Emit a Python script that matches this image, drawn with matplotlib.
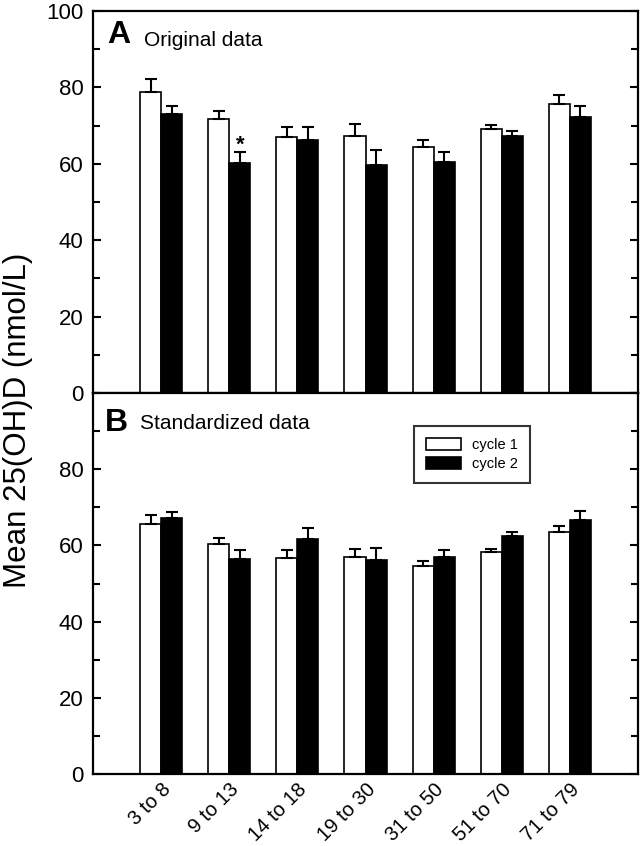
import numpy as np
import matplotlib
matplotlib.use("Agg")
import matplotlib.pyplot as plt
from matplotlib.ticker import MultipleLocator

plt.rcParams["font.family"] = ["Liberation Sans", "DejaVu Sans"]

age_groups = ["3 to 8", "9 to 13", "14 to 18", "19 to 30", "31 to 50", "51 to 70", "71 to 79"]

orig_c1 = [78.7, 71.7, 66.9, 67.4, 64.3, 69.0, 75.7]
orig_c1_err = [3.4, 2.2, 2.8, 2.9, 1.8, 1.2, 2.2]
orig_c2 = [73.0, 60.1, 66.2, 59.7, 60.5, 67.3, 72.3]
orig_c2_err = [2.1, 2.9, 3.5, 3.9, 2.5, 1.4, 2.9]

std_c1 = [65.6, 60.4, 56.6, 57.0, 54.6, 58.3, 63.4]
std_c1_err = [2.5, 1.5, 2.2, 2.1, 1.4, 0.8, 1.7]
std_c2 = [67.3, 56.5, 61.6, 56.1, 56.9, 62.5, 66.6]
std_c2_err = [1.5, 2.3, 3.0, 3.1, 1.9, 1.0, 2.3]

# group index with significant difference (panel A)
sig_groups = [1]

W, H = 641, 846
fig = plt.figure(figsize=(W / 100, H / 100), dpi=100)
left, right = 93 / W, 638 / W
top_a, mid, bot_b = 1 - 11 / H, 1 - 393 / H, 1 - 774 / H
ax_a = fig.add_axes([left, mid, right - left, top_a - mid])
ax_b = fig.add_axes([left, bot_b, right - left, mid - bot_b])

x = np.arange(len(age_groups))
bw = 0.31


def draw_panel(ax, c1, e1, c2, e2):
    ekw = dict(elinewidth=1.5, capthick=1.5, ecolor="black")
    ax.bar(x - bw / 2, c1, bw, color="white", edgecolor="black", linewidth=1.2,
           yerr=[np.zeros(len(c1)), e1], capsize=4.5, error_kw=ekw, label="cycle 1")
    ax.bar(x + bw / 2, c2, bw, color="black", edgecolor="black", linewidth=1.2,
           yerr=[np.zeros(len(c2)), e2], capsize=4.5, error_kw=ekw, label="cycle 2")
    ax.set_xlim(-1.0, 7.0)
    ax.set_ylim(0, 100)
    ax.yaxis.set_major_locator(MultipleLocator(20))
    ax.yaxis.set_minor_locator(MultipleLocator(10))
    ax.tick_params(axis="y", which="both", direction="in", right=True, width=1.5,
                   labelsize=16, pad=7)
    ax.tick_params(axis="y", which="major", length=6)
    ax.tick_params(axis="y", which="minor", length=5)
    ax.tick_params(axis="x", length=0)
    for s in ax.spines.values():
        s.set_linewidth(1.6)


draw_panel(ax_a, orig_c1, orig_c1_err, orig_c2, orig_c2_err)
draw_panel(ax_b, std_c1, std_c1_err, std_c2, std_c2_err)

ax_a.set_xticks(x)
ax_a.set_xticklabels([])
ax_a.set_yticks([0, 20, 40, 60, 80, 100])
ax_b.set_yticks([0, 20, 40, 60, 80])
ax_b.set_xticks(x)
ax_b.set_xticklabels(age_groups, rotation=45, ha="right", va="top",
                     rotation_mode="anchor", fontsize=14.5)
ax_b.tick_params(axis="x", pad=4)

for i in sig_groups:
    ax_a.text(x[i] + bw / 2, orig_c2[i] + orig_c2_err[i] + 0.3, "*", ha="center",
              va="baseline", fontsize=16, fontweight="bold")

ax_a.text(0.026, 0.916, "A", transform=ax_a.transAxes, fontsize=23,
          fontweight="bold", va="baseline")
ax_a.text(0.094, 0.908, "Original data", transform=ax_a.transAxes, fontsize=15,
          va="baseline")
ax_b.text(0.022, 0.900, "B", transform=ax_b.transAxes, fontsize=23,
          fontweight="bold", va="baseline")
ax_b.text(0.086, 0.906, "Standardized data", transform=ax_b.transAxes, fontsize=15,
          va="baseline")

leg = ax_b.legend(loc="upper left", bbox_to_anchor=(0.589, 0.913), fontsize=10.5,
                  frameon=True, fancybox=False, handlelength=2.4, handleheight=0.85,
                  borderpad=0.8, labelspacing=0.35, handletextpad=0.8,
                  borderaxespad=0)
leg.get_frame().set_edgecolor("black")
leg.get_frame().set_linewidth(1.5)

fig.text(18 / W, 1 - 420 / H, "Mean 25(OH)D (nmol/L)", rotation=90, ha="center",
         va="center", fontsize=22.5)

fig.savefig("out.png", dpi=100)
